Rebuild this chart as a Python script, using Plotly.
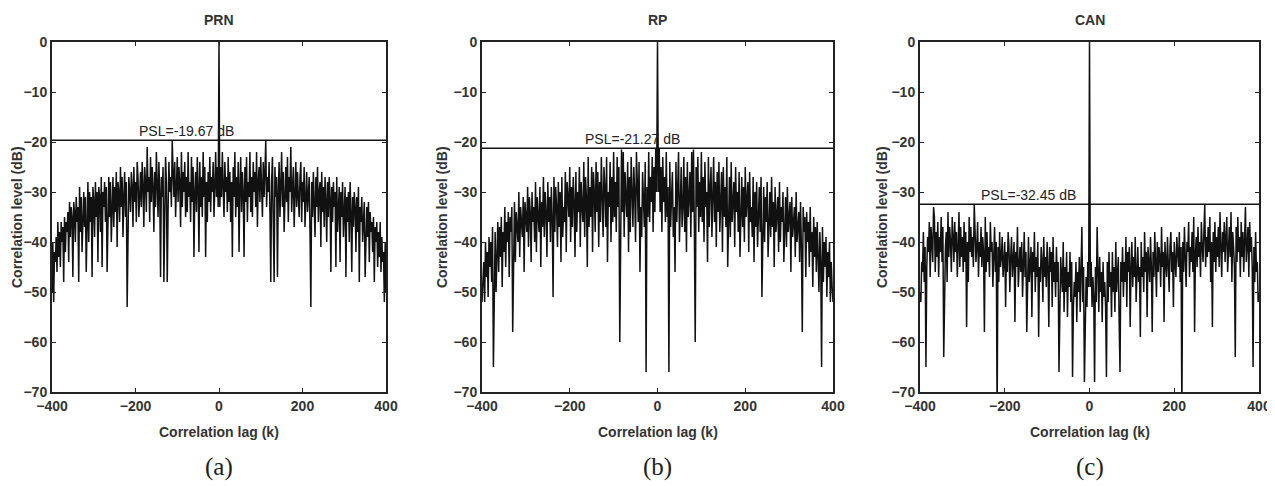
import plotly.graph_objects as go

# ---- data (one-sided autocorrelation levels in dB, lags 0,2,...,400; the sequences are symmetric in lag) ----
lag_step = 2
prn_pos = [0,
    -33, -25, -31, -22, -29, -35, -24, -30, -27, -34,
    -23, -32, -26, -36, -28, -43, -25, -31, -22, -35,
    -27, -33, -24, -42, -29, -23, -34, -26, -30, -43,
    -25, -32, -23, -36, -28, -31, -22, -34, -27, -35,
    -24, -30, -26, -33, -22, -37, -28, -25, -32, -23,
    -29, -35, -24, -31, -26, -19.67, -33, -27, -30, -24,
    -34, -48, -28, -23, -36, -48, -25, -31, -27, -47,
    -30, -24, -35, -28, -22, -33, -26, -38, -29, -25,
    -32, -23, -36, -27, -30, -21, -34, -28, -25, -37,
    -29, -24, -33, -26, -31, -35, -27, -24, -36, -28,
    -32, -25, -37, -29, -26, -34, -30, -27, -38, -53,
    -28, -35, -26, -31, -39, -27, -33, -25, -36, -30,
    -28, -41, -26, -34, -29, -37, -27, -32, -40, -28,
    -35, -27, -31, -46, -29, -36, -28, -33, -30, -45,
    -27, -38, -31, -29, -44, -30, -35, -28, -39, -32,
    -29, -47, -31, -36, -30, -40, -28, -34, -46, -31,
    -37, -30, -33, -42, -31, -38, -29, -48, -33, -36,
    -31, -40, -34, -32, -47, -35, -33, -39, -32, -44,
    -34, -38, -36, -42, -35, -48, -37, -40, -36, -45,
    -38, -43, -36, -46, -39, -44, -42, -52, -40, -50]
rp_pos = [0,
    -30, -21.27, -34, -25, -38, -23, -32, -27, -36, -22,
    -35, -29, -66, -24, -37, -31, -26, -39, -33, -46,
    -24, -36, -28, -22, -40, -30, -25, -37, -33, -23,
    -38, -27, -42, -24, -35, -31, -26, -39, -22, -34,
    -21.5, -37, -60, -25, -33, -23, -38, -28, -35, -22,
    -36, -27, -40, -24, -33, -30, -44, -23, -37, -29,
    -25, -39, -32, -23, -36, -28, -41, -26, -34, -24,
    -38, -30, -26, -42, -25, -35, -29, -37, -23, -45,
    -31, -27, -39, -24, -36, -33, -28, -41, -25, -34,
    -30, -38, -26, -43, -32, -27, -37, -29, -40, -25,
    -35, -31, -28, -42, -26, -36, -33, -39, -27, -44,
    -30, -37, -28, -41, -33, -29, -38, -27, -51, -35,
    -29, -40, -31, -36, -28, -43, -34, -30, -39, -27,
    -37, -32, -45, -29, -38, -35, -31, -42, -28, -40,
    -33, -36, -30, -44, -34, -31, -41, -29, -38, -35,
    -32, -46, -31, -39, -36, -33, -43, -30, -40, -37,
    -34, -44, -32, -41, -58, -33, -38, -35, -47, -34,
    -40, -36, -45, -33, -42, -38, -49, -35, -43, -37,
    -46, -36, -41, -50, -38, -44, -65, -37, -48, -40,
    -45, -39, -51, -42, -47, -40, -52, -44, -49, -52]
can_pos = [0,
    -49, -44, -53, -47, -51, -68, -45, -52, -37, -48,
    -54, -43, -50, -46, -56, -44, -51, -48, -53, -67,
    -44, -52, -42, -49, -46, -55, -42, -50, -45, -54,
    -40, -50, -47, -43, -56, -66, -44, -48, -41, -51,
    -44, -48, -39, -53, -42, -46, -41, -57, -45, -40,
    -49, -43, -47, -39, -52, -44, -41, -48, -45, -59,
    -40, -47, -43, -50, -38, -46, -42, -55, -41, -44,
    -48, -39, -45, -58, -42, -47, -38, -44, -51, -40,
    -46, -41, -43, -49, -37, -45, -42, -56, -40, -44,
    -47, -39, -43, -50, -41, -38, -46, -42, -53, -40,
    -44, -47, -39, -43, -45, -38, -48, -41, -75, -40,
    -46, -37, -43, -49, -40, -42, -36, -47, -41, -44,
    -38, -46, -35, -58, -42, -39, -45, -37, -43, -40,
    -47, -36, -41, -44, -38, -32.45, -45, -39, -43, -37,
    -42, -35, -48, -40, -57, -38, -44, -36, -46, -39,
    -43, -37, -45, -34, -41, -47, -38, -42, -36, -44,
    -39, -35, -46, -40, -37, -43, -34, -48, -38, -41,
    -45, -63, -37, -44, -35, -42, -39, -47, -36, -43,
    -38, -46, -35, -33, -44, -40, -37, -47, -36, -42,
    -39, -45, -65, -41, -48, -38, -46, -44, -52, -50]

titles = ["PRN", "RP", "CAN"]
captions = ["(a)", "(b)", "(c)"]
psl_values = [-19.67, -21.27, -32.45]
psl_label_lag = [-77, -56, -145]
x_ticks = [-400, -200, 0, 200, 400]
y_ticks = [0, -10, -20, -30, -40, -50, -60, -70]
x_title = "Correlation lag (k)"
y_title = "Correlation level (dB)"

series = [prn_pos, rp_pos, can_pos]

# ---- layout geometry: reference pixel positions, shifted by the page's 8px body margin ----
PAGE_W, PAGE_H, OFF = 1275, 486, 8
W, H = PAGE_W - OFF, PAGE_H - OFF


def px_x(p):
    return (p - OFF) / W


def px_y(p):
    return 1 - (p - OFF) / H


x_domains = [(px_x(52), px_x(386)), (px_x(482), px_x(833)), (px_x(920), px_x(1259))]
y_domain = (px_y(392), px_y(42))
ytitle_x = [17, 442, 882]

fig = go.Figure()
annotations = []
FONT = "Liberation Sans, Arial, sans-serif"

for i, pos in enumerate(series):
    lags_pos = [k * lag_step for k in range(len(pos))]
    lags = [-k for k in lags_pos[:0:-1]] + lags_pos
    vals = pos[:0:-1] + pos
    xa = "x" if i == 0 else f"x{i+1}"
    ya = "y" if i == 0 else f"y{i+1}"
    fig.add_trace(go.Scatter(x=lags, y=vals, mode="lines",
                             line=dict(color="#111111", width=1.5),
                             xaxis=xa, yaxis=ya, showlegend=False, hoverinfo="skip"))
    fig.add_trace(go.Scatter(x=[x_ticks[0], x_ticks[-1]], y=[psl_values[i], psl_values[i]],
                             mode="lines", line=dict(color="#111111", width=1.5),
                             xaxis=xa, yaxis=ya, showlegend=False, hoverinfo="skip"))
    axis_common = dict(showline=True, linecolor="#222222", linewidth=2, mirror="ticks",
                       ticks="inside", ticklen=4, tickcolor="#222222", showgrid=False,
                       zeroline=False, automargin=False,
                       tickfont=dict(family=FONT, size=14, color="#333333", weight="bold"))
    fig.update_layout(**{
        ("xaxis" if i == 0 else f"xaxis{i+1}"): dict(
            domain=list(x_domains[i]), range=[-400, 400], anchor=ya,
            tickvals=x_ticks, **axis_common),
        ("yaxis" if i == 0 else f"yaxis{i+1}"): dict(
            domain=list(y_domain), range=[-70, 0], anchor=xa,
            tickvals=y_ticks, **axis_common),
    })
    xc = (x_domains[i][0] + x_domains[i][1]) / 2
    centred = dict(xref="paper", yref="paper", xanchor="center", yanchor="middle", showarrow=False)
    annotations.append(dict(text=titles[i], x=xc, y=px_y(20), **centred,
                            font=dict(family=FONT, size=14, color="#333333", weight="bold")))
    annotations.append(dict(text=x_title, x=xc, y=px_y(432), **centred,
                            font=dict(family=FONT, size=14, color="#333333", weight="bold")))
    annotations.append(dict(text=y_title, x=px_x(ytitle_x[i]), y=(y_domain[0] + y_domain[1]) / 2,
                            textangle=-90, **centred,
                            font=dict(family=FONT, size=14, color="#333333", weight="bold")))
    annotations.append(dict(text=captions[i], x=xc, y=px_y(467), **centred,
                            font=dict(family="Liberation Serif, Times New Roman, serif",
                                      size=25, color="#222222")))
    annotations.append(dict(text=f"PSL={psl_values[i]:.2f} dB", x=psl_label_lag[i], y=psl_values[i],
                            xref=xa, yref=ya, xanchor="center", yanchor="bottom", showarrow=False, yshift=-1,
                            font=dict(family=FONT, size=14, color="#222222")))

fig.update_layout(width=W, height=H, margin=dict(l=0, r=0, t=0, b=0),
                  paper_bgcolor="white", plot_bgcolor="white", annotations=annotations)

fig.write_html("out.html")
